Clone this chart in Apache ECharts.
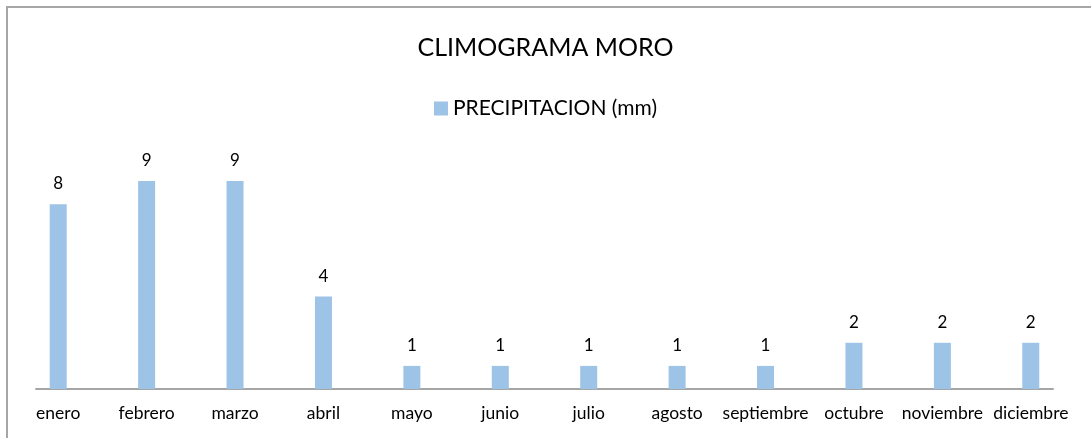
<!DOCTYPE html>
<html>
<head>
<meta charset="utf-8">
<script src="https://cdn.jsdelivr.net/npm/echarts@6/dist/echarts.min.js"></script>
<style>
  html, body { margin: 0; padding: 0; background: #fff; }
  #frame { position: absolute; left: 6px; top: 6px; width: 1100px; height: 440px;
           border-left: 2px solid #a6a6a6; border-top: 2px solid #a6a6a6; }
  #chart { position: absolute; left: 0; top: 0; width: 1091px; height: 438px; }
</style>
</head>
<body>
<div id="frame"></div>
<div id="chart"></div>
<script>
const meses = ['enero', 'febrero', 'marzo', 'abril', 'mayo', 'junio', 'julio', 'agosto', 'septiembre', 'octubre', 'noviembre', 'diciembre']
const precipitacion = [8, 9, 9, 4, 1, 1, 1, 1, 1, 2, 2, 2]

const fuente = "Lato, sans-serif"

let chartDom = document.getElementById('chart')
let myChart = echarts.init(chartDom)

let options = {
  animation: false,
  title: {
    text: 'CLIMOGRAMA MORO',
    left: 'center',
    top: 30,
    textStyle: { fontFamily: fuente, fontSize: 25, fontWeight: 'normal', color: '#000' }
  },
  legend: {
    top: 93,
    left: 'center',
    itemWidth: 14,
    itemHeight: 14,
    itemGap: 7,
    icon: 'rect',
    textStyle: { fontFamily: fuente, fontSize: 21, color: '#000' },
    data: ['PRECIPITACION (mm)']
  },
  grid: [
    { left: 14, right: 16, top: 158, bottom: 49 },
    { left: 36, right: 38, top: 158, bottom: 49 }
  ],
  xAxis: [
    {
      type: 'category',
      gridIndex: 0,
      data: meses,
      axisLine: { show: false },
      axisTick: { show: false },
      axisLabel: { fontFamily: fuente, fontSize: 17.5, color: '#000', margin: 15, interval: 0 }
    },
    {
      type: 'category',
      gridIndex: 1,
      data: meses,
      axisLine: { show: true, lineStyle: { color: '#a6a6a6', width: 2 } },
      axisTick: { show: false },
      axisLabel: { show: false }
    }
  ],
  yAxis: [
    { type: 'value', gridIndex: 0, min: 0, max: 10, show: false, splitLine: { show: false } },
    { type: 'value', gridIndex: 1, min: 0, max: 10, show: false, splitLine: { show: false } }
  ],
  series: [
    {
      name: 'PRECIPITACION (mm)',
      type: 'bar',
      xAxisIndex: 0,
      yAxisIndex: 0,
      barWidth: 17,
      data: precipitacion,
      itemStyle: { color: '#9dc3e6' },
      label: {
        show: true,
        position: 'top',
        distance: 12,
        fontFamily: fuente,
        fontSize: 17,
        color: '#000'
      }
    }
  ]
}

myChart.setOption(options)
</script>
</body>
</html>
